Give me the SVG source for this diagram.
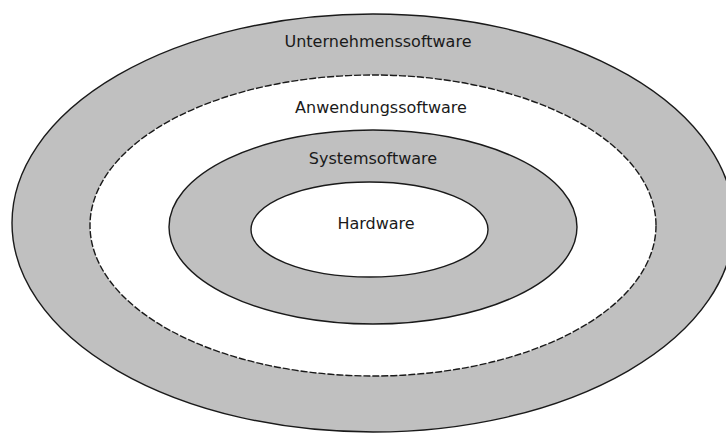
<svg xmlns="http://www.w3.org/2000/svg" width="726" height="434" viewBox="0 0 726 434">
<style>
.ring{stroke:#1a1a1a;stroke-width:1.4}
.gray{fill:#c0c0c0}
.white{fill:#ffffff}
.dash{stroke-dasharray:7 2}
text{font-family:"DejaVu Sans","Liberation Sans",sans-serif;font-size:16px;fill:#1a1a1a;text-anchor:middle}
</style>
<rect width="726" height="434" fill="#ffffff"/>
<g id="unternehmenssoftware">
<ellipse class="ring gray" cx="373" cy="223" rx="361" ry="209"/>
<text x="378" y="47">Unternehmenssoftware</text>
</g>
<g id="anwendungssoftware">
<ellipse class="ring white dash" cx="373" cy="225.5" rx="283" ry="150.5"/>
<text x="381" y="113">Anwendungssoftware</text>
</g>
<g id="systemsoftware">
<ellipse class="ring gray" cx="373" cy="227" rx="204" ry="97"/>
<text x="373" y="164">Systemsoftware</text>
</g>
<g id="hardware">
<ellipse class="ring white" cx="369.5" cy="229.5" rx="118.5" ry="47.5"/>
<text x="376" y="229">Hardware</text>
</g>
</svg>
